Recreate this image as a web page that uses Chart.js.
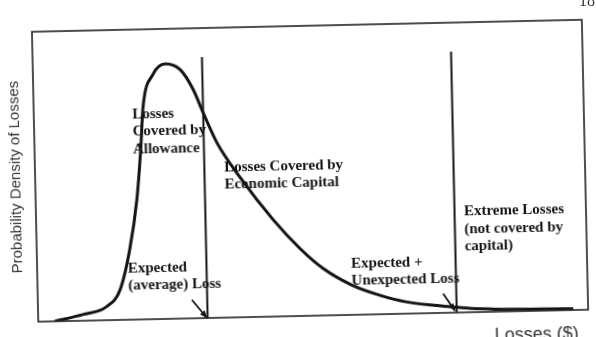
<!DOCTYPE html>
<html>
<head>
<meta charset="utf-8">
<script src="https://cdn.jsdelivr.net/npm/chart.js@4"></script>
<style>
  html, body { margin: 0; padding: 0; background: #fff; }
  #wrap { position: relative; width: 596px; height: 337px; overflow: hidden; background: #fff; }
  /* the scan is a little tilted, so the whole canvas is turned slightly */
  #chart { position: absolute; left: -10px; top: -10px; transform-origin: 308px 178.5px; transform: rotate(-1.25deg); }
  #page { position: absolute; left: 579px; top: -8px; font: 16px "Liberation Serif"; color: #333; }
</style>
</head>
<body>
<div id="wrap">
  <canvas id="chart" width="616" height="360"></canvas>
  <div id="page">18</div>
</div>
<script>
// loss distribution, values (x: losses, y: density, 0-100)
const lossX   = [3, 8.1, 12.5, 15, 16.9, 18.4, 19.3, 19.9, 21.8, 24.1, 26.8, 29.1, 30.8, 33.2, 37.2, 43.1, 47.9, 52, 57, 62.1, 66.9, 75.4, 79.6, 97.3];
const density = [0, 2.1, 4.7, 10.4, 24.1, 41.3, 58.5, 73.3, 84.3, 87.9, 85.8, 78.8, 70.8, 60.3, 48.4, 33.4, 23.2, 16.2, 10.4, 6.6, 4.1, 2.0, 1.2, 0.4];

// cut-off lines
const cutX   = [30.8, 76.1];   // expected loss, expected + unexpected loss
const cutTop = [90, 90];

// annotation text
const labelTexts = [
  ['Losses', 'Covered by', 'Allowance'],
  ['Losses Covered by', 'Economic Capital'],
  ['Expected', '(average) Loss'],
  ['Expected +', 'Unexpected Loss'],
  ['Extreme Losses', '(not covered by', 'capital)']
];
const labelX = [17.9, 34.4, 16.5, 57.1, 77.8];
const labelY = [70.7, 51.7, 17.6, 17.6, 34.7];

// arrows from the loss labels to the cut lines
const arrowFromX = [28.0, 73.7];
const arrowFromY = [6.4, 6.6];
const arrowToX   = [30.7, 75.8];
const arrowToY   = [0, 0.6];

const INK = '#141414';

const overlay = {
  id: 'overlay',
  afterDatasetsDraw(chart) {
    const { ctx, chartArea: a, scales: { x, y } } = chart;
    ctx.save();

    // frame
    ctx.strokeStyle = '#222';
    ctx.lineWidth = 1.6;
    ctx.strokeRect(a.left, a.top, a.right - a.left, a.bottom - a.top);

    // labels
    ctx.fillStyle = INK;
    ctx.font = 'bold 15px "Liberation Serif"';
    ctx.textBaseline = 'middle';
    labelTexts.forEach((lines, i) => {
      const px = x.getPixelForValue(labelX[i]);
      const py = y.getPixelForValue(labelY[i]);
      lines.forEach((t, j) => ctx.fillText(t, px, py + j * 17.5));
    });

    // arrows
    ctx.strokeStyle = INK;
    ctx.lineWidth = 1.8;
    arrowFromX.forEach((fx, i) => {
      const x0 = x.getPixelForValue(fx), y0 = y.getPixelForValue(arrowFromY[i]);
      const x1 = x.getPixelForValue(arrowToX[i]), y1 = y.getPixelForValue(arrowToY[i]);
      const ang = Math.atan2(y1 - y0, x1 - x0);
      ctx.beginPath();
      ctx.moveTo(x0, y0);
      ctx.lineTo(x1, y1);
      ctx.stroke();
      ctx.beginPath();
      ctx.moveTo(x1, y1);
      ctx.lineTo(x1 - 8 * Math.cos(ang - 0.4), y1 - 8 * Math.sin(ang - 0.4));
      ctx.lineTo(x1 - 8 * Math.cos(ang + 0.4), y1 - 8 * Math.sin(ang + 0.4));
      ctx.closePath();
      ctx.fill();
    });

    // axis titles
    ctx.fillStyle = '#333';
    ctx.font = '15px "Liberation Sans"';
    ctx.save();
    ctx.translate(a.left - 19, (a.top + a.bottom) / 2);
    ctx.rotate(-Math.PI / 2);
    ctx.textAlign = 'center';
    ctx.fillText('Probability Density of Losses', 0, 0);
    ctx.restore();

    ctx.font = '18px "Liberation Sans"';
    ctx.textBaseline = 'alphabetic';
    ctx.fillText('Losses ($)', a.right - 94, a.bottom + 29);

    ctx.restore();
  }
};

const curve = lossX.map((v, i) => ({ x: v, y: density[i] }));
const cutSets = cutX.map((v, i) => ({
  data: [{ x: v, y: 0 }, { x: v, y: cutTop[i] }],
  borderColor: INK,
  borderWidth: 2,
  pointRadius: 0
}));

new Chart(document.getElementById('chart'), {
  type: 'line',
  data: {
    datasets: [
      {
        data: curve,
        borderColor: INK,
        borderWidth: 3,
        pointRadius: 0,
        cubicInterpolationMode: 'monotone',
        fill: false
      },
      ...cutSets
    ]
  },
  options: {
    responsive: false,
    animation: false,
    layout: { padding: { left: 45, right: 21, top: 36, bottom: 34 } },
    scales: {
      x: { type: 'linear', min: 0, max: 100, display: false },
      y: { min: 0, max: 100, display: false }
    },
    plugins: { legend: { display: false }, tooltip: { enabled: false } }
  },
  plugins: [overlay]
});
</script>
</body>
</html>
